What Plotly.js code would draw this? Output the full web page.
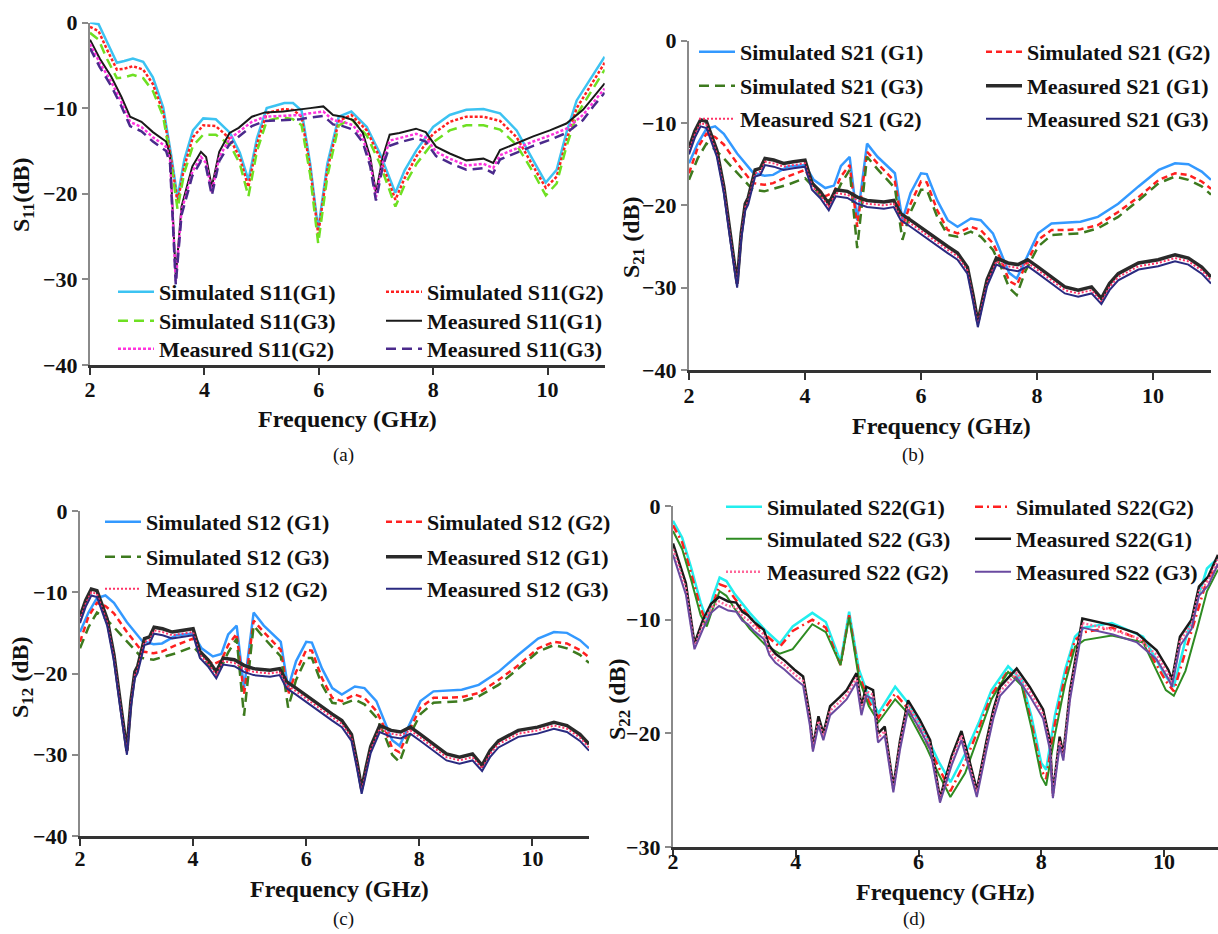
<!DOCTYPE html>
<html><head><meta charset="utf-8">
<script src="https://cdn.plot.ly/plotly-3.0.1.min.js"></script>
<style>html,body{margin:0;padding:0;background:#fff;overflow:hidden}#chart{width:1218px;height:934px}</style>
</head><body><div id="chart"></div>
<script>
// ---------- (a) S11 ----------
const fa_sim = [2.0,2.15,2.3,2.47,2.6,2.75,2.93,3.1,3.28,3.42,3.53,3.65,3.8,3.98,4.2,4.45,4.62,4.77,4.92,5.09,5.25,5.4,5.55,5.7,5.85,5.99,6.15,6.35,6.57,6.84,7.07,7.34,7.5,7.71,8.0,8.29,8.58,8.88,9.17,9.46,9.75,9.97,10.16,10.33,10.51,10.74,11.0];
const a_sim_g1 = [0,-0.2,-2.3,-4.7,-4.5,-4.2,-4.6,-6.4,-9.9,-15.5,-20.5,-16.0,-12.6,-11.2,-11.3,-12.9,-15.2,-18.4,-13.5,-10.0,-9.7,-9.4,-9.4,-10.3,-16.5,-24.2,-16.5,-11.0,-10.4,-12.2,-15.3,-19.9,-17.3,-14.9,-12.2,-10.8,-10.2,-10.1,-10.6,-12.6,-16.1,-18.7,-17.2,-12.9,-9.1,-6.7,-4.0];
const a_sim_g2 = [-0.5,-1.0,-3.2,-5.5,-5.4,-5.1,-5.5,-7.2,-10.5,-16.0,-21.0,-16.8,-13.4,-12.0,-12.1,-13.6,-15.8,-19.2,-14.2,-10.6,-10.3,-10.1,-10.2,-11.0,-17.0,-24.7,-17.2,-11.5,-10.8,-12.6,-15.8,-20.7,-18.2,-15.6,-13.0,-11.6,-11.0,-11.0,-11.5,-13.4,-16.8,-19.3,-18.0,-13.8,-10.0,-7.5,-4.7];
const a_sim_g3 = [-1.2,-2.0,-4.3,-6.5,-6.4,-6.1,-6.5,-8.0,-11.0,-16.5,-21.8,-17.5,-14.4,-13.1,-13.1,-14.3,-16.5,-20.3,-15.0,-11.5,-11.2,-11.1,-11.3,-12.0,-17.8,-25.8,-18.0,-12.0,-11.3,-13.2,-16.5,-21.5,-19.0,-16.5,-14.0,-12.6,-12.0,-12.0,-12.5,-14.3,-17.5,-20.2,-18.8,-14.5,-10.8,-8.3,-5.5];
const fa_meas = [2.0,2.17,2.37,2.55,2.7,2.9,3.1,3.33,3.4,3.5,3.6,3.79,3.94,4.03,4.13,4.26,4.44,4.6,4.83,5.06,5.38,5.67,5.85,6.08,6.25,6.42,6.6,6.77,6.9,7.0,7.12,7.24,7.41,7.7,7.87,8.05,8.29,8.58,8.88,9.05,9.17,9.46,9.75,10.04,10.33,10.62,10.8,11.0];
const a_meas_g1 = [-2.0,-4.2,-6.3,-8.7,-11.0,-11.6,-12.8,-13.9,-15.5,-29.7,-21.5,-16.8,-15.1,-15.7,-19.2,-15.1,-12.9,-12.3,-11.0,-10.5,-10.4,-10.2,-10.0,-9.8,-10.8,-11.0,-11.4,-12.9,-15.7,-19.9,-15.7,-13.1,-12.9,-12.4,-12.8,-14.5,-15.3,-16.1,-15.9,-16.4,-14.9,-14.1,-13.3,-12.6,-11.8,-10.2,-8.7,-7.1];
const a_meas_g2 = [-2.5,-4.7,-6.9,-9.3,-11.6,-12.2,-13.4,-14.5,-16.0,-30.2,-22.0,-17.4,-15.7,-16.4,-19.8,-15.7,-13.6,-12.8,-11.6,-11.0,-10.9,-10.8,-10.6,-10.4,-11.4,-11.6,-12.0,-13.5,-16.3,-20.4,-16.3,-13.8,-13.5,-13.0,-13.4,-15.1,-15.9,-16.7,-16.5,-17.0,-15.5,-14.7,-13.9,-13.2,-12.4,-10.8,-9.3,-7.7];
const a_meas_g3 = [-3.0,-5.2,-7.4,-9.8,-12.1,-12.7,-13.9,-15.0,-16.5,-30.6,-22.5,-17.9,-16.2,-16.9,-20.2,-16.2,-14.2,-13.3,-12.1,-11.5,-11.4,-11.3,-11.1,-10.9,-11.9,-12.1,-12.5,-14.0,-16.8,-20.8,-16.8,-14.4,-14.0,-13.5,-13.9,-15.6,-16.4,-17.2,-17.0,-17.6,-16.0,-15.2,-14.4,-13.7,-12.9,-11.4,-9.8,-8.2];

// ---------- (b) S21 ----------
const fb_sim = [2.0,2.15,2.3,2.45,2.6,2.83,3.1,3.3,3.45,3.7,4.0,4.15,4.35,4.5,4.62,4.77,4.9,5.07,5.25,5.42,5.55,5.68,5.82,6.0,6.1,6.28,6.46,6.63,6.86,7.03,7.24,7.38,7.52,7.65,7.8,8.02,8.25,8.5,8.75,9.05,9.4,9.75,10.1,10.38,10.61,10.84,11.0];
const b_sim_g1 = [-14.9,-12.5,-10.7,-10.4,-11.3,-13.7,-16.0,-16.4,-16.3,-15.3,-15.1,-16.9,-17.9,-17.6,-15.2,-14.1,-21.8,-12.5,-14.1,-15.3,-16.1,-21.8,-18.5,-16.1,-16.2,-19.4,-21.8,-22.6,-21.6,-21.8,-23.4,-25.8,-28.2,-28.9,-26.7,-23.4,-22.2,-22.1,-22.0,-21.4,-19.8,-17.7,-15.7,-14.9,-15.0,-15.9,-16.9];
const b_sim_g2 = [-16.1,-13.0,-11.3,-11.7,-12.6,-14.9,-17.3,-17.5,-17.3,-16.5,-15.7,-17.5,-18.9,-18.4,-16.5,-15.1,-22.6,-13.5,-14.9,-16.1,-17.1,-22.6,-19.8,-17.1,-17.2,-20.6,-23.0,-23.4,-22.6,-23.0,-24.6,-26.6,-29.2,-29.7,-27.3,-24.2,-23.0,-23.0,-22.9,-22.4,-20.8,-19.0,-16.9,-16.1,-16.3,-17.1,-18.0];
const b_sim_g3 = [-16.9,-14.3,-12.5,-13.2,-14.3,-16.1,-18.1,-18.3,-18.0,-17.5,-16.7,-17.8,-19.5,-19.2,-17.4,-15.7,-25.2,-14.1,-15.6,-16.9,-17.9,-24.2,-20.8,-18.1,-18.1,-21.4,-23.6,-23.8,-23.2,-23.8,-25.4,-27.5,-30.0,-30.9,-28.0,-25.0,-23.6,-23.5,-23.4,-22.8,-21.4,-19.4,-17.3,-16.5,-16.9,-17.7,-18.7];
const fb_meas = [2.0,2.1,2.2,2.3,2.48,2.6,2.71,2.83,2.9,2.97,3.02,3.14,3.23,3.31,3.46,3.63,3.8,4.0,4.12,4.26,4.41,4.53,4.73,4.9,5.07,5.36,5.53,5.65,5.82,6.06,6.28,6.46,6.63,6.8,6.9,6.98,7.06,7.14,7.3,7.5,7.67,7.84,8.02,8.25,8.48,8.71,8.94,9.11,9.25,9.4,9.75,10.09,10.38,10.61,10.84,11.0];
const b_meas_g1 = [-13.0,-11.0,-9.6,-9.8,-13.3,-17.7,-23.4,-29.5,-23.4,-19.8,-19.1,-15.7,-15.5,-14.3,-14.5,-14.9,-14.7,-14.5,-17.3,-18.3,-19.8,-18.1,-18.3,-19.0,-19.4,-19.6,-19.4,-21.0,-21.8,-23.0,-24.2,-25.0,-25.8,-27.5,-31.0,-34.2,-31.5,-29.0,-26.4,-27.0,-27.2,-26.6,-27.5,-28.7,-29.9,-30.3,-29.9,-31.3,-29.5,-28.3,-27.0,-26.6,-26.0,-26.4,-27.5,-28.7];
const b_meas_g2 = [-13.4,-11.4,-10.0,-10.2,-13.7,-18.1,-23.8,-29.8,-23.8,-20.2,-19.5,-16.1,-15.9,-14.7,-14.9,-15.3,-15.1,-14.9,-17.7,-18.7,-20.2,-18.5,-18.7,-19.4,-19.8,-20.0,-19.8,-21.4,-22.2,-23.4,-24.6,-25.4,-26.2,-27.9,-31.4,-34.5,-31.9,-29.4,-26.8,-27.4,-27.6,-27.0,-27.9,-29.1,-30.3,-30.7,-30.3,-31.7,-29.9,-28.7,-27.4,-27.0,-26.4,-26.8,-27.9,-29.1];
const b_meas_g3 = [-13.8,-11.8,-10.4,-10.6,-14.1,-18.5,-24.2,-30.0,-24.2,-20.6,-19.9,-16.5,-16.3,-15.1,-15.3,-15.7,-15.5,-15.3,-18.1,-19.1,-20.6,-18.9,-19.1,-19.8,-20.2,-20.4,-20.2,-21.8,-22.6,-23.8,-25.0,-25.8,-26.6,-28.3,-31.8,-34.8,-32.3,-29.8,-27.2,-27.8,-28.0,-27.4,-28.3,-29.5,-30.7,-31.1,-30.7,-32.0,-30.3,-29.1,-27.8,-27.4,-26.8,-27.2,-28.3,-29.5];

// ---------- (c) S12 ----------
const fc_sim = [2.0,2.15,2.3,2.45,2.6,2.83,3.1,3.3,3.45,3.7,4.0,4.15,4.35,4.5,4.62,4.77,4.9,5.07,5.25,5.42,5.55,5.68,5.82,6.0,6.1,6.28,6.46,6.63,6.86,7.03,7.24,7.38,7.52,7.65,7.8,8.02,8.25,8.5,8.75,9.05,9.4,9.75,10.1,10.38,10.61,10.84,11.0];
const c_sim_g1 = [-14.9,-12.5,-10.7,-10.4,-11.3,-13.7,-16.0,-16.4,-16.3,-15.3,-15.1,-16.9,-17.9,-17.6,-15.2,-14.1,-21.8,-12.5,-14.1,-15.3,-16.1,-21.8,-18.5,-16.1,-16.2,-19.4,-21.8,-22.6,-21.6,-21.8,-23.4,-25.8,-28.2,-28.9,-26.7,-23.4,-22.2,-22.1,-22.0,-21.4,-19.8,-17.7,-15.7,-14.9,-15.0,-15.9,-16.9];
const c_sim_g2 = [-16.1,-13.0,-11.3,-11.7,-12.6,-14.9,-17.3,-17.5,-17.3,-16.5,-15.7,-17.5,-18.9,-18.4,-16.5,-15.1,-22.6,-13.5,-14.9,-16.1,-17.1,-22.6,-19.8,-17.1,-17.2,-20.6,-23.0,-23.4,-22.6,-23.0,-24.6,-26.6,-29.2,-29.7,-27.3,-24.2,-23.0,-23.0,-22.9,-22.4,-20.8,-19.0,-16.9,-16.1,-16.3,-17.1,-18.0];
const c_sim_g3 = [-16.9,-14.3,-12.5,-13.2,-14.3,-16.1,-18.1,-18.3,-18.0,-17.5,-16.7,-17.8,-19.5,-19.2,-17.4,-15.7,-25.2,-14.1,-15.6,-16.9,-17.9,-24.2,-20.8,-18.1,-18.1,-21.4,-23.6,-23.8,-23.2,-23.8,-25.4,-27.5,-30.0,-30.9,-28.0,-25.0,-23.6,-23.5,-23.4,-22.8,-21.4,-19.4,-17.3,-16.5,-16.9,-17.7,-18.7];
const fc_meas = [2.0,2.1,2.2,2.3,2.48,2.6,2.71,2.83,2.9,2.97,3.02,3.14,3.23,3.31,3.46,3.63,3.8,4.0,4.12,4.26,4.41,4.53,4.73,4.9,5.07,5.36,5.53,5.65,5.82,6.06,6.28,6.46,6.63,6.8,6.9,6.98,7.06,7.14,7.3,7.5,7.67,7.84,8.02,8.25,8.48,8.71,8.94,9.11,9.25,9.4,9.75,10.09,10.38,10.61,10.84,11.0];
const c_meas_g1 = [-13.0,-11.0,-9.6,-9.8,-13.3,-17.7,-23.4,-29.5,-23.4,-19.8,-19.1,-15.7,-15.5,-14.3,-14.5,-14.9,-14.7,-14.5,-17.3,-18.3,-19.8,-18.1,-18.3,-19.0,-19.4,-19.6,-19.4,-21.0,-21.8,-23.0,-24.2,-25.0,-25.8,-27.5,-31.0,-34.2,-31.5,-29.0,-26.4,-27.0,-27.2,-26.6,-27.5,-28.7,-29.9,-30.3,-29.9,-31.3,-29.5,-28.3,-27.0,-26.6,-26.0,-26.4,-27.5,-28.7];
const c_meas_g2 = [-13.4,-11.4,-10.0,-10.2,-13.7,-18.1,-23.8,-29.8,-23.8,-20.2,-19.5,-16.1,-15.9,-14.7,-14.9,-15.3,-15.1,-14.9,-17.7,-18.7,-20.2,-18.5,-18.7,-19.4,-19.8,-20.0,-19.8,-21.4,-22.2,-23.4,-24.6,-25.4,-26.2,-27.9,-31.4,-34.5,-31.9,-29.4,-26.8,-27.4,-27.6,-27.0,-27.9,-29.1,-30.3,-30.7,-30.3,-31.7,-29.9,-28.7,-27.4,-27.0,-26.4,-26.8,-27.9,-29.1];
const c_meas_g3 = [-13.8,-11.8,-10.4,-10.6,-14.1,-18.5,-24.2,-30.0,-24.2,-20.6,-19.9,-16.5,-16.3,-15.1,-15.3,-15.7,-15.5,-15.3,-18.1,-19.1,-20.6,-18.9,-19.1,-19.8,-20.2,-20.4,-20.2,-21.8,-22.6,-23.8,-25.0,-25.8,-26.6,-28.3,-31.8,-34.8,-32.3,-29.8,-27.2,-27.8,-28.0,-27.4,-28.3,-29.5,-30.7,-31.1,-30.7,-32.0,-30.3,-29.1,-27.8,-27.4,-26.8,-27.2,-28.3,-29.5];

// ---------- (d) S22 ----------
const fd_sim = [2.0,2.15,2.3,2.45,2.55,2.65,2.76,2.87,3.0,3.25,3.5,3.74,3.95,4.27,4.49,4.73,4.87,5.03,5.19,5.35,5.62,5.84,6.11,6.33,6.52,6.76,6.98,7.19,7.46,7.68,7.84,8.0,8.08,8.22,8.39,8.55,8.7,9.15,9.66,10.03,10.16,10.35,10.54,10.7,10.88];
const d_sim_g1 = [-1.3,-2.8,-5.5,-8.5,-10.0,-8.0,-6.3,-6.6,-7.7,-9.4,-10.9,-12.1,-10.6,-9.4,-10.2,-13.7,-9.3,-14.4,-16.8,-18.2,-15.9,-17.4,-20.0,-22.5,-24.3,-21.8,-19.1,-16.2,-14.1,-15.3,-18.5,-22.6,-23.2,-18.5,-14.4,-11.5,-10.7,-10.3,-11.5,-15.0,-15.9,-11.8,-8.3,-5.5,-4.6];
const d_sim_g2 = [-1.7,-3.2,-6.0,-9.0,-10.3,-8.6,-6.9,-7.1,-8.1,-9.8,-11.3,-12.4,-11.0,-10.0,-10.7,-14.0,-9.6,-14.8,-17.2,-18.6,-16.5,-17.9,-20.5,-23.0,-25.1,-22.5,-19.6,-16.6,-14.5,-15.6,-19.0,-23.2,-24.0,-19.2,-14.9,-11.8,-11.1,-10.7,-11.9,-15.4,-16.3,-12.8,-9.5,-6.5,-5.2];
const d_sim_g3 = [-2.2,-3.8,-6.6,-9.6,-10.6,-9.0,-7.5,-7.9,-9.0,-10.8,-12.2,-13.0,-12.6,-10.4,-11.1,-14.0,-9.8,-15.2,-17.6,-19.0,-17.0,-18.3,-21.0,-23.6,-25.6,-23.5,-20.2,-17.0,-14.6,-15.8,-19.5,-23.8,-24.6,-20.2,-15.6,-12.4,-11.8,-11.4,-12.0,-16.2,-16.7,-14.5,-10.8,-7.5,-5.6];
const fd_meas = [2.0,2.12,2.21,2.35,2.49,2.62,2.75,2.9,3.03,3.13,3.22,3.32,3.48,3.57,3.67,3.82,3.98,4.12,4.23,4.28,4.37,4.45,4.56,4.72,4.83,4.99,5.07,5.15,5.26,5.34,5.45,5.59,5.7,5.83,6.02,6.19,6.35,6.54,6.7,6.81,6.95,7.11,7.22,7.33,7.6,7.81,8.03,8.14,8.19,8.3,8.36,8.47,8.67,9.17,9.56,9.88,10.07,10.13,10.26,10.45,10.57,10.72,10.88];
const d_meas_g1 = [-3.3,-5.2,-6.8,-12.1,-10.0,-8.6,-8.0,-8.4,-8.5,-9.3,-9.6,-10.2,-10.9,-12.3,-13.0,-13.6,-14.4,-15.0,-18.5,-21.2,-18.5,-20.0,-17.6,-16.8,-16.2,-14.7,-17.6,-15.9,-16.2,-20.0,-19.4,-24.7,-20.6,-17.1,-18.8,-20.6,-25.7,-22.0,-19.8,-22.0,-25.0,-20.6,-17.9,-15.9,-14.3,-15.9,-17.9,-20.6,-25.3,-20.3,-21.8,-16.2,-9.9,-10.5,-11.2,-12.7,-14.4,-15.3,-11.5,-10.0,-7.1,-6.2,-4.3];
const d_meas_g2 = [-3.8,-5.7,-7.3,-12.4,-10.4,-9.0,-8.4,-8.8,-8.9,-9.7,-10.0,-10.6,-11.3,-12.7,-13.4,-14.0,-14.8,-15.4,-18.9,-21.4,-18.9,-20.3,-18.0,-17.2,-16.6,-15.1,-18.0,-16.3,-16.6,-20.4,-19.8,-25.0,-21.0,-17.5,-19.2,-21.0,-25.9,-22.4,-20.2,-22.4,-25.3,-21.0,-18.3,-16.3,-14.7,-16.3,-18.3,-21.0,-25.5,-20.7,-22.1,-16.6,-10.3,-10.9,-11.6,-13.1,-14.8,-15.6,-11.9,-10.4,-7.5,-6.6,-4.7];
const d_meas_g3 = [-4.3,-6.2,-7.8,-12.6,-10.8,-9.4,-8.8,-9.2,-9.3,-10.1,-10.4,-11.0,-11.7,-13.1,-13.8,-14.4,-15.2,-15.8,-19.3,-21.6,-19.3,-20.6,-18.4,-17.6,-17.0,-15.5,-18.4,-16.7,-17.0,-20.8,-20.2,-25.2,-21.4,-17.9,-19.6,-21.4,-26.1,-22.8,-20.6,-22.8,-25.6,-21.4,-18.7,-16.7,-15.1,-16.7,-18.7,-21.4,-25.7,-21.1,-22.4,-17.0,-10.7,-11.3,-12.0,-13.5,-15.2,-15.9,-12.3,-10.8,-7.9,-7.0,-5.1];

// ---------- labels ----------
const namesA = ['Simulated S11(G1)','Simulated S11(G2)','Simulated S11(G3)','Measured S11(G1)','Measured S11(G2)','Measured S11(G3)'];
const namesB = ['Simulated S21 (G1)','Simulated S21 (G2)','Simulated S21 (G3)','Measured S21 (G1)','Measured S21 (G2)','Measured S21 (G3)'];
const namesC = ['Simulated S12 (G1)','Simulated S12 (G2)','Simulated S12 (G3)','Measured S12 (G1)','Measured S12 (G2)','Measured S12 (G3)'];
const namesD = ['Simulated S22(G1)','Simulated S22(G2)','Simulated S22 (G3)','Measured S22(G1)','Measured S22 (G2)','Measured S22 (G3)'];
const xTickVals = [2,4,6,8,10];
const xTitle = 'Frequency (GHz)';
const yTitles = ['S<sub>11</sub>(dB)','S<sub>21</sub> (dB)','S<sub>12</sub> (dB)','S<sub>22</sub> (dB)'];
const captions = ['(a)','(b)','(c)','(d)'];

// ---------- styles ----------
const FONT = 'Liberation Serif, "Times New Roman", Times, serif';
const stylesA = [
  {color:'#3cc3f2', dash:'solid', width:2.5},
  {color:'#ff2020', dash:'3px,2px', width:2.5},
  {color:'#6ee022', dash:'10px,6px', width:2.5},
  {color:'#1a1a1a', dash:'solid', width:2},
  {color:'#ff33dd', dash:'3px,2px', width:2.5},
  {color:'#4b2a8c', dash:'10px,6px', width:2.5}
];
const stylesBC = [
  {color:'#3399ff', dash:'solid', width:2.5},
  {color:'#ff2020', dash:'6px,4px', width:2.5},
  {color:'#3d7a1e', dash:'10px,6px', width:2.5},
  {color:'#2a2a2a', dash:'solid', width:3.5},
  {color:'#ff3366', dash:'2px,2px', width:2},
  {color:'#2a2a80', dash:'solid', width:2}
];
const stylesD = [
  {color:'#22eeee', dash:'solid', width:2.5},
  {color:'#ff2020', dash:'8px,4px,2px,4px', width:2.5},
  {color:'#2e8b22', dash:'solid', width:2},
  {color:'#1a1a1a', dash:'solid', width:2.5},
  {color:'#ff6699', dash:'2px,2px', width:2.5},
  {color:'#6a4aa0', dash:'solid', width:2}
];

const panels = [
  {xs:[fa_sim,fa_sim,fa_sim,fa_meas,fa_meas,fa_meas], ys:[a_sim_g1,a_sim_g2,a_sim_g3,a_meas_g1,a_meas_g2,a_meas_g3], names:namesA, styles:stylesA, ax:''},
  {xs:[fb_sim,fb_sim,fb_sim,fb_meas,fb_meas,fb_meas], ys:[b_sim_g1,b_sim_g2,b_sim_g3,b_meas_g1,b_meas_g2,b_meas_g3], names:namesB, styles:stylesBC, ax:'2'},
  {xs:[fc_sim,fc_sim,fc_sim,fc_meas,fc_meas,fc_meas], ys:[c_sim_g1,c_sim_g2,c_sim_g3,c_meas_g1,c_meas_g2,c_meas_g3], names:namesC, styles:stylesBC, ax:'3'},
  {xs:[fd_sim,fd_sim,fd_sim,fd_meas,fd_meas,fd_meas], ys:[d_sim_g1,d_sim_g2,d_sim_g3,d_meas_g1,d_meas_g2,d_meas_g3], names:namesD, styles:stylesD, ax:'4'}
];

// layout geometry (pixel based)
const W = 1218, H = 934;
const geo = [
  {x0:90, x1:604.7, y0:22.5, y1:365, xr:[2,11], yr:[-40,0], legX:113, legRows:[292,321,349], colD:268, cap:[343,455], xt:[347,419], yt:[23,195], lblOff:-4},
  {x0:689, x1:1211, y0:40.7, y1:370, xr:[2,11], yr:[-40,0], legX:694, legRows:[52,86,119], colD:287, cap:[913,455], xt:[941,426], yt:[633,238], lblOff:-3},
  {x0:80, x1:589, y0:511, y1:836, xr:[2,11], yr:[-40,0], legX:100, legRows:[522,557,589], colD:281, cap:[343,919], xt:[339,889], yt:[22,678], lblOff:-6},
  {x0:673, x1:1218, y0:506, y1:847, xr:[2,10.88], yr:[-30,0], legX:721, legRows:[507,539,572], colD:249, cap:[914,919], xt:[945,892], yt:[619,700], lblOff:-14}
];
const ITEMW = 36;

const data = [];
const layout = {
  width:W, height:H, margin:{l:0,r:0,t:0,b:0, autoexpand:false},
  paper_bgcolor:'#ffffff', plot_bgcolor:'rgba(0,0,0,0)',
  font:{family:FONT, color:'#111'},
  showlegend:true, annotations:[]
};
let legCount = 0;
panels.forEach((p, pi) => {
  const g = geo[pi];
  const legIds = [];
  for (let r = 0; r < 3; r++) {
    legCount++;
    const id = legCount === 1 ? 'legend' : 'legend' + legCount;
    legIds.push(id);
    layout[id] = {
      x: g.legX / W, xanchor:'left', y: 1 - g.legRows[r] / H, yanchor:'middle',
      orientation:'h', entrywidthmode:'pixels',
      itemwidth: ITEMW, bgcolor:'rgba(0,0,0,0)', borderwidth:0,
      font:{family:FONT, size:22, weight:'bold', color:'#111'}, traceorder:'normal'
    };
  }
  for (let k = 0; k < 6; k++) {
    const st = p.styles[k];
    data.push({
      type:'scatter', mode:'lines', x:p.xs[k], y:p.ys[k], name:p.names[k],
      xaxis:'x' + p.ax, yaxis:'y' + p.ax, legend: legIds[Math.floor(k / 2)],
      legendwidth: (k % 2 === 0) ? (g.colD - ITEMW - 15) : 200,
      line:{color:st.color, dash:st.dash, width:st.width, shape:'linear'},
      hoverinfo:'skip'
    });
  }
  layout['xaxis' + p.ax] = {
    domain:[g.x0 / W, g.x1 / W], range:g.xr, anchor:'y' + p.ax,
    showline:true, linecolor:'#333', linewidth:2.5, mirror:false,
    ticks:'outside', ticklen:7, tickwidth:2, tickcolor:'#333',
    tickvals:xTickVals, ticktext:xTickVals.map(String), ticklabelstandoff:g.lblOff,
    showgrid:false, zeroline:false,
    tickfont:{family:FONT, size:22, weight:'bold', color:'#111'}
  };
  layout['yaxis' + p.ax] = {
    domain:[1 - g.y1 / H, 1 - g.y0 / H], range:g.yr, anchor:'x' + p.ax,
    showline:true, linecolor:'#8a8a8a', linewidth:2,
    ticks:'outside', ticklen:6, tickwidth:2, tickcolor:'#8a8a8a', dtick:10,
    showgrid:false, zeroline:false,
    tickfont:{family:FONT, size:22, weight:'bold', color:'#111'}
  };
  layout.annotations.push({
    xref:'paper', yref:'paper', x:g.xt[0] / W, y:1 - g.xt[1] / H,
    text:xTitle, showarrow:false, xanchor:'center', yanchor:'middle',
    font:{family:FONT, size:24, weight:'bold', color:'#111'}
  });
  layout.annotations.push({
    xref:'paper', yref:'paper', x:g.yt[0] / W, y:1 - g.yt[1] / H,
    text:yTitles[pi], textangle:-90, showarrow:false, xanchor:'center', yanchor:'middle',
    font:{family:FONT, size:24, weight:'bold', color:'#111'}
  });
  layout.annotations.push({
    xref:'paper', yref:'paper', x:g.cap[0] / W, y:1 - g.cap[1] / H,
    text:captions[pi], showarrow:false, xanchor:'center', yanchor:'middle',
    font:{family:FONT, size:19, color:'#111'}
  });
});

Plotly.newPlot('chart', data, layout, {staticPlot:true, displayModeBar:false});
</script>
</body></html>
